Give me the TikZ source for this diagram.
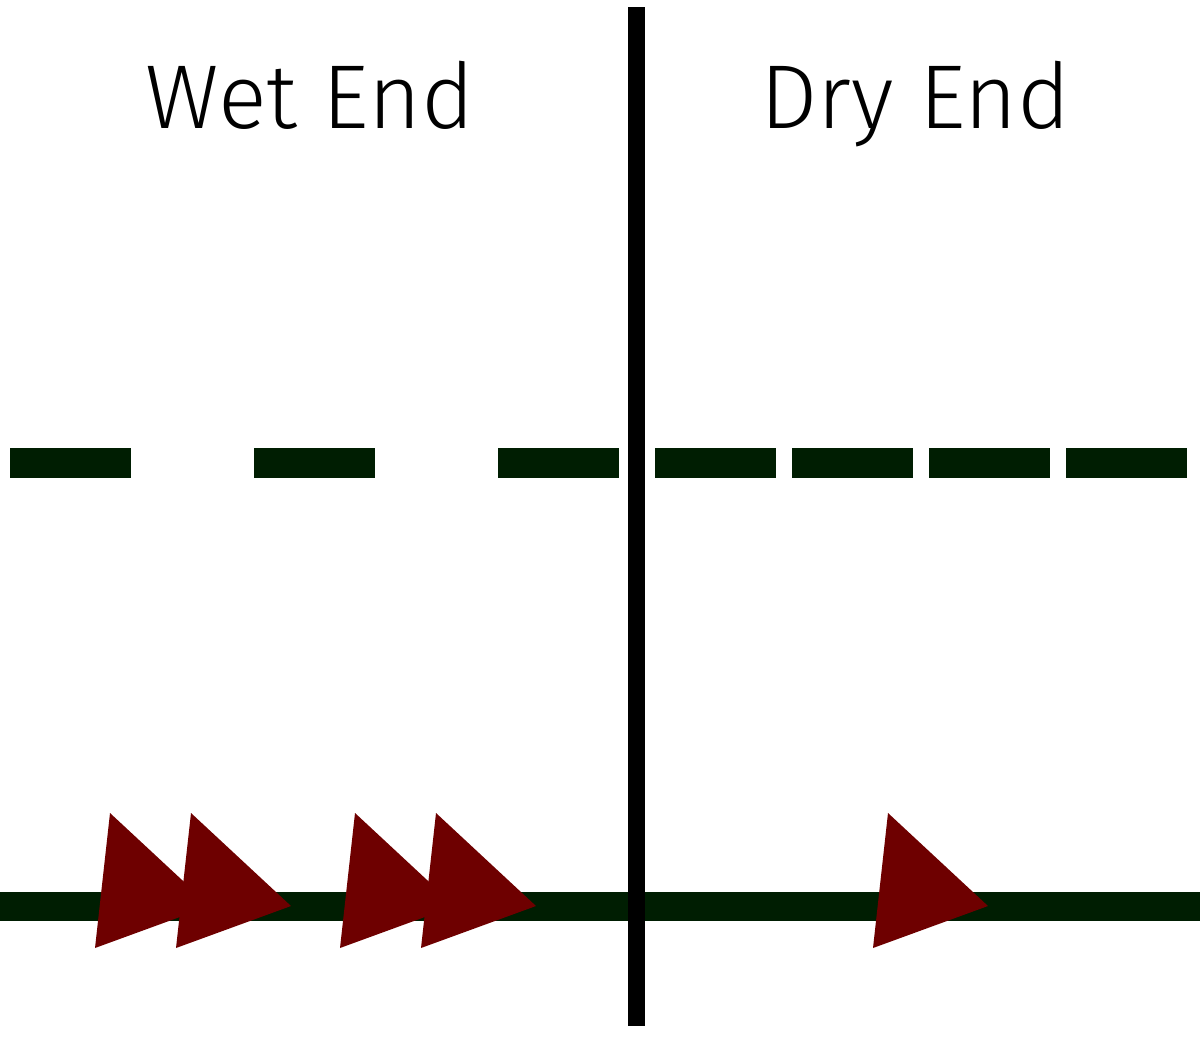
\documentclass[tikz,border=0pt]{standalone}
\usepackage{fontspec}
\setmainfont{Fira Sans Light}
\definecolor{lineGreen}{RGB}{0,30,2}
\definecolor{arrowRed}{RGB}{110,0,0}
\begin{document}
\begin{tikzpicture}[x=0.75pt,y=-0.75pt,
  label/.style={font=\fontsize{68}{72}\selectfont, inner sep=0pt, anchor=base},
  flowline/.style={draw=lineGreen, line width=22pt},
  divider/.style={draw=black, line width=12.75pt},
  pointer/.style={fill=arrowRed}]
\useasboundingbox (0,0) rectangle (1200,1040);
% labels
\node[label] (wet) at (310,128) {Wet End};
\node[label] (dry) at (915.5,128) {Dry End};
% dashed line
\coordinate (dl1) at (10,463);
\coordinate (dl2) at (640,463);
\coordinate (dr1) at (655,463);
\coordinate (dr2) at (1188.5,463);
\draw[flowline, line width=22.5pt, dash pattern=on 91pt off 92pt] (dl1) -- (dl2);
\draw[flowline, line width=22.5pt, dash pattern=on 91pt off 11.75pt] (dr1) -- (dr2);
% solid line
\coordinate (s1) at (0,906.5);
\coordinate (s2) at (1200,906.5);
\draw[flowline, line width=21.75pt] (s1) -- (s2);
% arrows
\foreach \x in {95,176,340,421,873}{
  \fill[pointer] (\x+15,813) -- (\x+115,906) -- (\x,948) -- cycle;
}
% divider
\coordinate (v1) at (636.5,7);
\coordinate (v2) at (636.5,1026);
\draw[divider] (v1) -- (v2);
\end{tikzpicture}
\end{document}
